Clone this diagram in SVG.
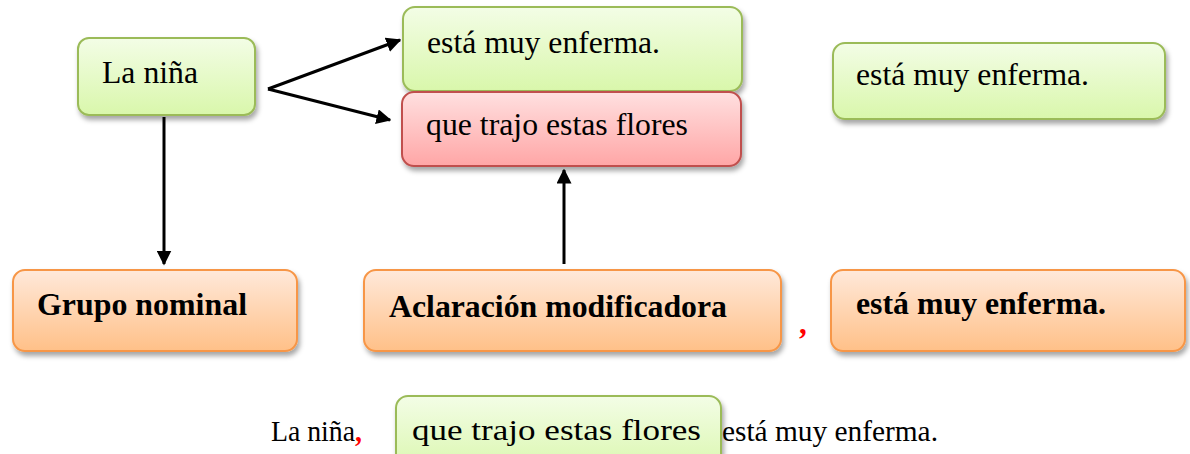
<svg xmlns="http://www.w3.org/2000/svg" width="1190" height="454" viewBox="0 0 1190 454">
<defs>
<linearGradient id="gGreen" x1="0" y1="0" x2="0" y2="1"><stop offset="0" stop-color="#f3fde6"/><stop offset="1" stop-color="#d9f7ab"/></linearGradient>
<linearGradient id="gRed" x1="0" y1="0" x2="0" y2="1"><stop offset="0" stop-color="#ffe0e0"/><stop offset="1" stop-color="#ffa6a6"/></linearGradient>
<linearGradient id="gOrange" x1="0" y1="0" x2="0" y2="1"><stop offset="0" stop-color="#ffe9da"/><stop offset="1" stop-color="#ffc088"/></linearGradient>
<filter id="sh" x="-10%" y="-20%" width="125%" height="150%"><feDropShadow dx="2" dy="4" stdDeviation="2.5" flood-color="#000" flood-opacity="0.35"/></filter>
<marker id="ah" viewBox="0 0 10 10" refX="9" refY="5" markerWidth="5" markerHeight="5" orient="auto" markerUnits="strokeWidth"><path d="M0,0 L10,5 L0,10 z" fill="#000"/></marker>
<style>
.green{fill:url(#gGreen);stroke:#9bbb59;stroke-width:2;filter:url(#sh)}
.red{fill:url(#gRed);stroke:#c0504d;stroke-width:2;filter:url(#sh)}
.orange{fill:url(#gOrange);stroke:#f79646;stroke-width:2;filter:url(#sh)}
.t{font-family:"Liberation Serif","Times New Roman",serif;font-size:31px;fill:#000}
.b{font-weight:bold}
.bt{font-family:"Liberation Serif","Times New Roman",serif;font-size:30px;fill:#000}
.conn{stroke:#000;stroke-width:3;fill:none;marker-end:url(#ah)}
.comma{fill:#ff0000}
</style>
</defs>
<rect width="1190" height="454" fill="#fff"/>
<g id="connectors">
<line class="conn" x1="268" y1="89" x2="400" y2="40"/>
<line class="conn" x1="268" y1="89" x2="390" y2="120"/>
<line class="conn" x1="164" y1="117" x2="164" y2="264"/>
<line class="conn" x1="564" y1="264" x2="564" y2="170"/>
</g>
<g id="n-lanina"><rect class="green" x="78" y="38" width="177" height="77" rx="11"/><text class="t" x="102" y="83" textLength="96" lengthAdjust="spacingAndGlyphs">La niña</text></g>
<g id="n-esta1"><rect class="green" x="403" y="7" width="339" height="84" rx="12"/><text class="t" x="427" y="53" textLength="233" lengthAdjust="spacingAndGlyphs">está muy enferma.</text></g>
<g id="n-que"><rect class="red" x="402" y="92" width="339" height="74" rx="12"/><text class="t" x="426" y="135" textLength="262" lengthAdjust="spacingAndGlyphs">que trajo estas flores</text></g>
<g id="n-esta2"><rect class="green" x="833" y="43" width="332" height="76" rx="12"/><text class="t" x="856" y="85" textLength="233" lengthAdjust="spacingAndGlyphs">está muy enferma.</text></g>
<g id="n-grupo"><rect class="orange" x="13" y="270" width="284" height="81" rx="12"/><text class="t b" x="37" y="315" textLength="210" lengthAdjust="spacingAndGlyphs">Grupo nominal</text></g>
<g id="n-aclar"><rect class="orange" x="364" y="270" width="417" height="81" rx="12"/><text class="t b" x="389" y="317" textLength="338" lengthAdjust="spacingAndGlyphs">Aclaración modificadora</text></g>
<text class="t b comma" x="799" y="334">,</text>
<g id="n-esta3"><rect class="orange" x="831" y="270" width="354" height="81" rx="12"/><text class="t b" x="856" y="314" textLength="250" lengthAdjust="spacingAndGlyphs">está muy enferma.</text></g>
<g id="n-bottom"><rect class="green" x="396" y="396" width="325" height="80" rx="12"/><text class="bt" x="412" y="440" textLength="289" lengthAdjust="spacingAndGlyphs">que trajo estas flores</text></g>
<text class="bt" x="271" y="441" textLength="91" lengthAdjust="spacingAndGlyphs">La niña<tspan class="comma" font-weight="bold">,</tspan></text>
<text class="bt" x="722" y="441" textLength="216" lengthAdjust="spacingAndGlyphs">está muy enferma.</text>
</svg>
